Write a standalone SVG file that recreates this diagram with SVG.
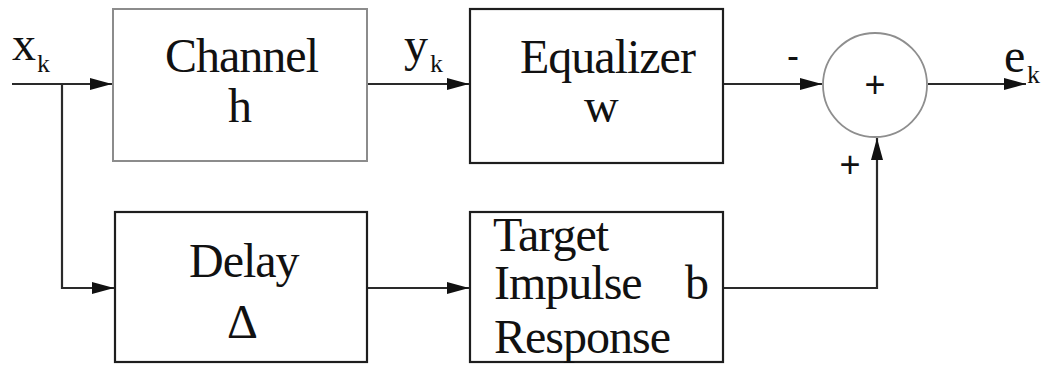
<svg xmlns="http://www.w3.org/2000/svg" width="1043" height="365" viewBox="0 0 1043 365">
  <style>
    .box { fill: #ffffff; stroke: #1e1e1e; stroke-width: 2.2; }
    .box-light { fill: #ffffff; stroke: #8c8c8c; stroke-width: 2; }
    .sum { fill: #ffffff; stroke: #8e8e8e; stroke-width: 1.8; }
    .wire { fill: none; stroke: #2a2a2a; stroke-width: 2.2; }
    .lbl { font-size: 48px; letter-spacing: -1px; fill: #111111; }
    .sub { font-size: 26px; fill: #111111; }
    .sign { font-size: 36px; fill: #111111; }
  </style>
  <defs>
    <marker id="arrow" viewBox="0 0 22 12" refX="22" refY="6" markerWidth="22" markerHeight="12" markerUnits="userSpaceOnUse" orient="auto">
      <path d="M0,0 L22,6 L0,12 Z" fill="#111111"/>
    </marker>
  </defs>

  <!-- connectors -->
  <g id="connectors">
    <path class="wire" d="M12,84 H112" marker-end="url(#arrow)"/>
    <path class="wire" d="M62,84 V288 H114" marker-end="url(#arrow)"/>
    <path class="wire" d="M367,84 H469" marker-end="url(#arrow)"/>
    <path class="wire" d="M367,288 H469" marker-end="url(#arrow)"/>
    <path class="wire" d="M723,84 H822" marker-end="url(#arrow)"/>
    <path class="wire" d="M928,84 H1026" marker-end="url(#arrow)"/>
    <path class="wire" d="M723,288 H877 V138" marker-end="url(#arrow)"/>
  </g>

  <!-- signal labels -->
  <g id="signal-labels" font-family="Liberation Serif, serif">
    <text class="lbl" x="12" y="60">x</text>
    <text class="sub" x="37" y="72">k</text>
    <text class="lbl" x="404" y="61">y</text>
    <text class="sub" x="430" y="72">k</text>
    <text class="lbl" x="1004" y="72">e</text>
    <text class="sub" x="1027" y="83">k</text>
  </g>

  <g id="channel" font-family="Liberation Serif, serif">
    <rect class="box-light" x="113" y="9" width="254" height="152"/>
    <text class="lbl" x="165" y="72">Channel</text>
    <text class="lbl" x="228" y="122">h</text>
  </g>

  <g id="equalizer" font-family="Liberation Serif, serif">
    <rect class="box" x="470" y="9" width="253" height="154"/>
    <text class="lbl" x="520" y="73">Equalizer</text>
    <text class="lbl" x="584" y="122">w</text>
  </g>

  <g id="summer" font-family="Liberation Sans, sans-serif">
    <circle class="sum" cx="875" cy="85" r="52"/>
    <text class="sign" x="875" y="97" text-anchor="middle">+</text>
    <text class="sign" x="793" y="68" text-anchor="middle">-</text>
    <text class="sign" x="850" y="177" text-anchor="middle">+</text>
  </g>

  <g id="delay" font-family="Liberation Serif, serif">
    <rect class="box" x="115" y="212" width="252" height="150"/>
    <text class="lbl" x="189" y="277">Delay</text>
    <text class="lbl" x="227" y="338">Δ</text>
  </g>

  <g id="target" font-family="Liberation Serif, serif">
    <rect class="box" x="470" y="212" width="253" height="150"/>
    <text class="lbl" x="493" y="251">Target</text>
    <text class="lbl" x="494" y="299">Impulse</text>
    <text class="lbl" x="685" y="299">b</text>
    <text class="lbl" x="494" y="353">Response</text>
  </g>
</svg>
